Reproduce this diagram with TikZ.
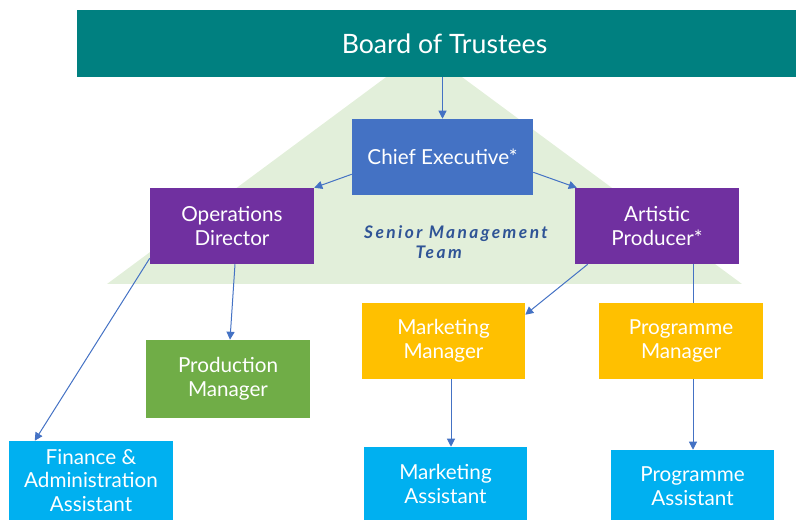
\documentclass[tikz,border=0pt]{standalone}
\usepackage{fontspec}
\setmainfont{Lato}
\newfontfamily\smtfont[LetterSpace=14]{Lato}
\usetikzlibrary{arrows.meta,calc}
\definecolor{teal1}{HTML}{008080}
\definecolor{ceblue}{HTML}{4472C4}
\definecolor{purp}{HTML}{7030A0}
\definecolor{gold}{HTML}{FFC000}
\definecolor{grn}{HTML}{70AD47}
\definecolor{cyan1}{HTML}{00B0F0}
\definecolor{tri}{HTML}{E2EFDA}
\definecolor{smt}{HTML}{2F5496}
\begin{document}
\begin{tikzpicture}[x=0.75pt,y=-0.75pt,
  box/.style={rectangle,inner sep=0pt,text=white,align=center,font=\fontsize{15.5}{17.8}\selectfont},
  con/.style={draw=ceblue,line width=0.75pt},
  arr/.style={con,-{Triangle[length=6pt,width=6pt]}}]
\useasboundingbox (0,0) rectangle (796,520);
\begin{scope}
\clip (0,0) rectangle (796,520);
\fill[tri] (107,284) -- (742,284) -- (424,49) -- cycle;
\node[box,fill=teal1,minimum width=551.25pt,minimum height=50.25pt,font=\fontsize{20}{24}\selectfont] (board) at (444.5,43.5) {Board of Trustees};
\end{scope}
\node[box,fill=ceblue,minimum width=135.75pt,minimum height=57pt] (ce) at (442.5,157) {Chief Executive*};
\node[box,fill=purp,minimum width=123pt,minimum height=57pt] (ops) at (232,226) {Operations\\Director};
\node[box,fill=purp,minimum width=123pt,minimum height=57pt] (art) at (657,226) {Artistic\\Producer*};
\node[box,fill=grn,minimum width=123pt,minimum height=58.5pt] (prod) at (228,379) {Production\\Manager};
\node[box,fill=cyan1,minimum width=123pt,minimum height=59.25pt] (fin) at (91,480.5) {Finance \&\\Administration\\Assistant};
\node[box,fill=gold,minimum width=122.25pt,minimum height=57pt] (mm) at (443.5,341) {Marketing\\Manager};
\node[box,fill=gold,minimum width=123pt,minimum height=57pt] (pm) at (681,341) {Programme\\Manager};
\node[box,fill=cyan1,minimum width=122.25pt,minimum height=55.5pt] (ma) at (445.5,484) {Marketing\\Assistant};
\node[box,fill=cyan1,minimum width=122.25pt,minimum height=54pt] (pa) at (692.5,486) {Programme\\Assistant};
\node[text=smt,align=center,inner sep=0pt,font=\smtfont\bfseries\itshape\fontsize{13}{14.5}\selectfont] (smtlabel) at (456,242) {Senior Management\\Team\hspace*{2em}};
\draw[arr] (ce.north |- board.south) -- (ce.north);
\draw[arr] ($(ce.south west)+(0,-21)$) -- (ops.north east);
\draw[arr] ($(ce.south east)+(0,-23)$) -- ($(art.north west)+(2,0)$);
\draw[arr] ($(ops.south)+(3,0)$) -- ($(prod.north)+(2,0)$);
\draw[arr] ($(ops.south west)+(0,-6)$) -- ($(fin.north west)+(26,0)$);
\draw[arr] ($(art.south west)+(13,0)$) -- ($(mm.north east)+(0,12)$);
\draw[con] ($(art.south)+(36,0)$) coordinate (a1) -- (a1 |- pm.north);
\draw[arr] ($(mm.south)+(7.5,0)$) coordinate (m1) -- (m1 |- ma.north);
\draw[arr] ($(pm.south)+(12,0)$) coordinate (p1) -- (p1 |- pa.north);
\end{tikzpicture}
\end{document}
